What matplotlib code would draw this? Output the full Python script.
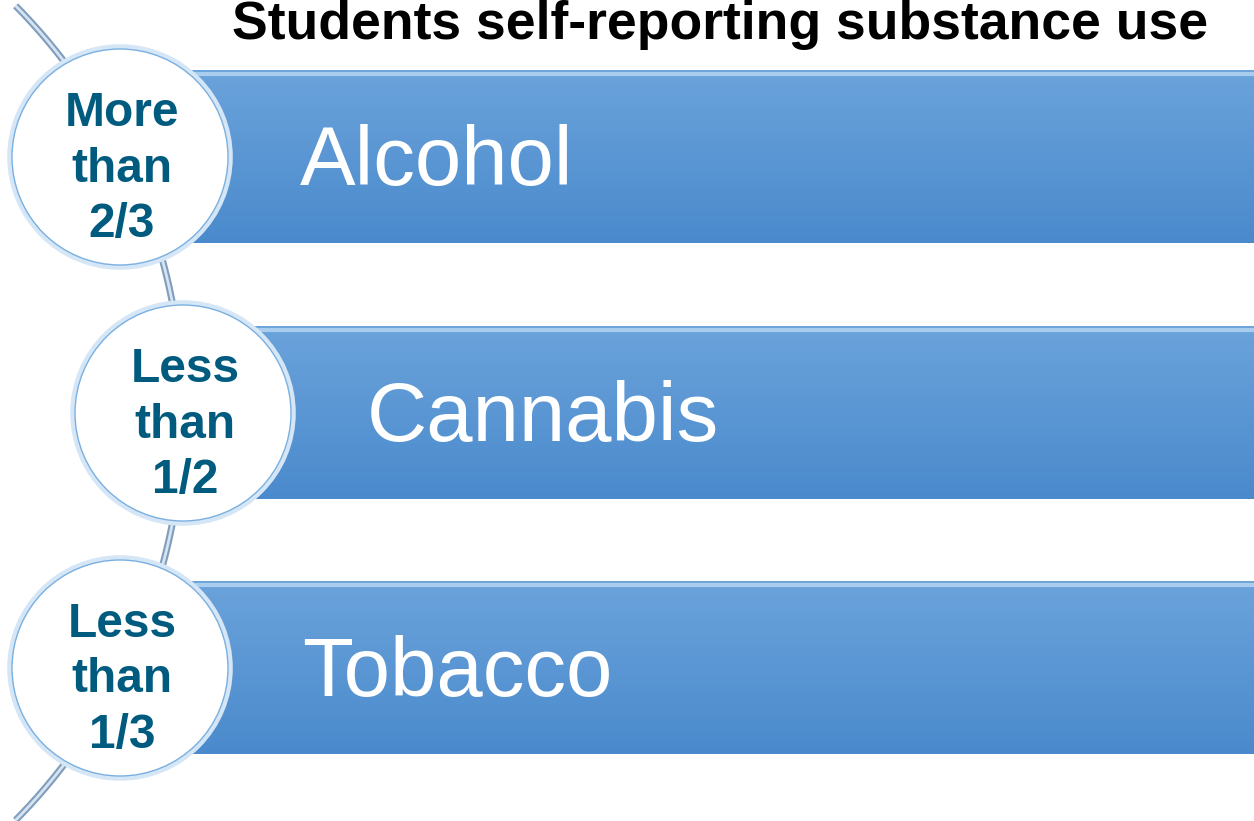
import numpy as np
import matplotlib.pyplot as plt
from matplotlib.patches import Circle, Rectangle

plt.rcParams['font.family'] = ['Liberation Sans', 'DejaVu Sans']

# Data
title = "Students self-reporting substance use"
substances = ["Alcohol", "Cannabis", "Tobacco"]
shares = ["More\nthan\n2/3", "Less\nthan\n1/2", "Less\nthan\n1/3"]

W, H = 1254, 821
fig = plt.figure(figsize=(W / 100, H / 100), dpi=100)
ax = fig.add_axes([0, 0, 1, 1])
ax.set_xlim(0, W)
ax.set_ylim(H, 0)
ax.axis('off')

# layout (pixel space)
row_y = [157, 413, 668]
circ_x = [120, 183, 120]
bar_x = [185, 245, 185]
label_x = [300, 367, 302]
bar_h = 173
rad = 108

# the arc that links the circles
cx, cy, r = -396, 413, 579
t = np.linspace(-0.78, 0.78, 300)
arc_x = cx + r * np.cos(t)
arc_y = cy + r * np.sin(t)
ax.plot(arc_x, arc_y, color='#7f9dbd', lw=5, solid_capstyle='butt', zorder=1)
ax.plot(arc_x, arc_y, color='#d6e3f0', lw=2, solid_capstyle='butt', zorder=1)

# vertical gradient for bars
grad = np.linspace(0, 1, 256).reshape(-1, 1)
top = np.array([0.42, 0.64, 0.86])
bot = np.array([0.29, 0.54, 0.80])
img = top + (bot - top) * grad[..., None]
img = img.reshape(256, 1, 3)

for i, name in enumerate(substances):
    y0 = row_y[i] - bar_h / 2
    rect = Rectangle((bar_x[i], y0), W - bar_x[i], bar_h, facecolor='none',
                     edgecolor='none', zorder=2)
    ax.add_patch(rect)
    im = ax.imshow(img, extent=(bar_x[i], W, y0 + bar_h, y0), aspect='auto',
                   interpolation='bilinear', zorder=2)
    im.set_clip_path(rect)
    # light stripe along the top edge
    ax.plot([bar_x[i] + 10, W], [y0 + 4, y0 + 4], color='#a9cdef', lw=3, zorder=3)
    ax.text(label_x[i], row_y[i] + 6, name, color='white', fontsize=60,
            ha='left', va='center', zorder=4)

    # circle with share label
    ax.add_patch(Circle((circ_x[i], row_y[i]), rad + 2, facecolor='none',
                        edgecolor='#d5e6f6', lw=4, zorder=5))
    ax.add_patch(Circle((circ_x[i], row_y[i]), rad, facecolor='white',
                        edgecolor='#7ab0e0', lw=1.0, zorder=6))
    ax.text(circ_x[i] + 2, row_y[i] + 12, shares[i], color='#005b7f',
            fontsize=34.5, fontweight='bold', ha='center', va='center',
            linespacing=1.3, zorder=7)

ax.text(720, 39, title, fontsize=38.5, fontweight='bold', color='black',
        ha='center', va='baseline', zorder=8)

fig.savefig('out.png', dpi=100)
